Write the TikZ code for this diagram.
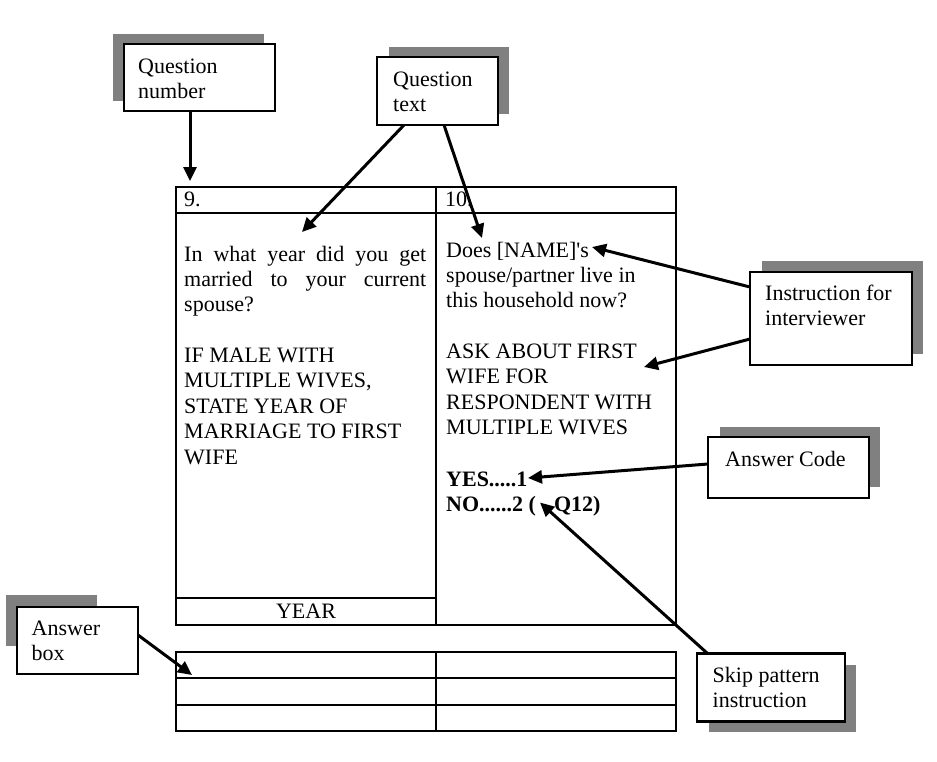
\documentclass[tikz,border=0pt]{standalone}
\usepackage{fontspec}
\setmainfont{Liberation Serif}
\usetikzlibrary{arrows.meta}
\definecolor{shadowgray}{HTML}{808080}
\tikzset{
  txt/.style={inner sep=0pt, anchor=base west, font=\fontsize{22}{25.5}\selectfont},
  callout/.style={draw=black, line width=2.2pt, fill=white, inner sep=0pt, rectangle},
  shade/.style={fill=shadowgray},
  pointer/.style={line width=3pt, -{Triangle[length=14pt,width=13pt]}},
  grid/.style={line width=1.4pt},
}
\begin{document}
\begin{tikzpicture}[x=1pt,y=-1pt]
\useasboundingbox (0,0) rectangle (937,761);
% ---------- table ----------
\draw[grid] (176,187) rectangle (676,625);
\draw[grid] (436,187) -- (436,625);
\draw[grid] (176,213) -- (676,213);
\draw[grid] (176,598) -- (436,598);
\draw[grid] (176,652) rectangle (676,731);
\draw[grid] (436,652) -- (436,731);
\draw[line width=2.2pt] (176,678) -- (676,678);
\draw[grid] (176,705) -- (676,705);
% ---------- table text ----------
\node[txt] (n9) at (184,206) {9.};
\node[txt] (n10) at (445,206) {10.};
\node[txt] (l1) at (184,261) {\makebox[242pt][s]{In what year did you get}};
\node[txt] (l2) at (184,286) {\makebox[242pt][s]{married to your current}};
\node[txt] (l3) at (184,311) {spouse?};
\node[txt] (l4) at (184,362) {IF MALE WITH};
\node[txt] (l5) at (184,387.5) {MULTIPLE WIVES,};
\node[txt] (l6) at (184,413) {STATE YEAR OF};
\node[txt] (l7) at (184,438.5) {MARRIAGE TO FIRST};
\node[txt] (l8) at (184,464) {WIFE};
\node[txt, anchor=base] (year) at (306,618) {YEAR};
\node[txt] (r1) at (446,257) {Does [NAME]\textquotesingle s};
\node[txt] (r2) at (446,282) {spouse/partner live in};
\node[txt] (r3) at (446,307) {this household now?};
\node[txt] (r4) at (446,358) {ASK ABOUT FIRST};
\node[txt] (r5) at (446,383.5) {WIFE FOR};
\node[txt] (r6) at (446,409) {RESPONDENT WITH};
\node[txt] (r7) at (446,434.5) {MULTIPLE WIVES};
\node[txt] (yes) at (446,486) {\textbf{YES.....1}};
\node[txt] (no) at (446,511.5) {\textbf{NO......2 (\hspace{18pt}Q12)}};
% ---------- callout boxes ----------
\fill[shade] (113,34) rectangle (264,101);
\node[callout, minimum width=151pt, minimum height=67pt] (qnum) at (199.5,77.5) {};
\node[txt] (qnum1) at (138,73) {Question};
\node[txt] (qnum2) at (138,98) {number};

\fill[shade] (389,47) rectangle (509,114);
\node[callout, minimum width=121pt, minimum height=68pt] (qtext) at (437.5,91) {};
\node[txt] (qtext1) at (393,86) {Question};
\node[txt] (qtext2) at (393,111.5) {text};

\fill[shade] (762,261) rectangle (923,354);
\node[callout, minimum width=162pt, minimum height=93pt] (instr) at (831,318.5) {};
\node[txt] (instr1) at (765,300) {Instruction for};
\node[txt] (instr2) at (765,325.5) {interviewer};

\fill[shade] (720,427) rectangle (880,487);
\node[callout, minimum width=161pt, minimum height=61pt] (acode) at (788.5,467.5) {};
\node[txt] (acode1) at (725,466) {Answer Code};

\fill[shade] (709,665) rectangle (856,732);
\node[callout, minimum width=148pt, minimum height=68pt] (skip) at (771,687.5) {};
\node[txt] (skip1) at (712.5,682) {Skip pattern};
\node[txt] (skip2) at (712.5,707.5) {instruction};

\fill[shade] (6,595) rectangle (97,646);
\node[callout, minimum width=121pt, minimum height=67pt] (abox) at (77.5,640.5) {};
\node[txt] (abox1) at (31.5,635) {Answer};
\node[txt] (abox2) at (31.5,660.5) {box};
% ---------- arrow coordinates ----------
\coordinate (t1) at (190,181);
\coordinate (s2) at (404,125);
\coordinate (t2) at (302,232);
\coordinate (s3) at (444,125);
\coordinate (t3) at (482,238);
\coordinate (s4) at (750,287);
\coordinate (t4) at (592,247);
\coordinate (s5) at (750,339);
\coordinate (t5) at (644,367);
\coordinate (s6) at (708,464);
\coordinate (t6) at (528,478);
\coordinate (s7) at (707,653);
\coordinate (t7) at (540,502.5);
\coordinate (s8) at (138,635);
\coordinate (t8) at (192,675);
% ---------- arrows ----------
\draw[pointer] (qnum.south -| t1) -- (t1);
\draw[pointer] (s2) -- (t2);
\draw[pointer] (s3) -- (t3);
\draw[pointer] (s4) -- (t4);
\draw[pointer] (s5) -- (t5);
\draw[pointer] (s6) -- (t6);
\draw[pointer] (s7) -- (t7);
\draw[pointer] (s8) -- (t8);
\end{tikzpicture}
\end{document}
